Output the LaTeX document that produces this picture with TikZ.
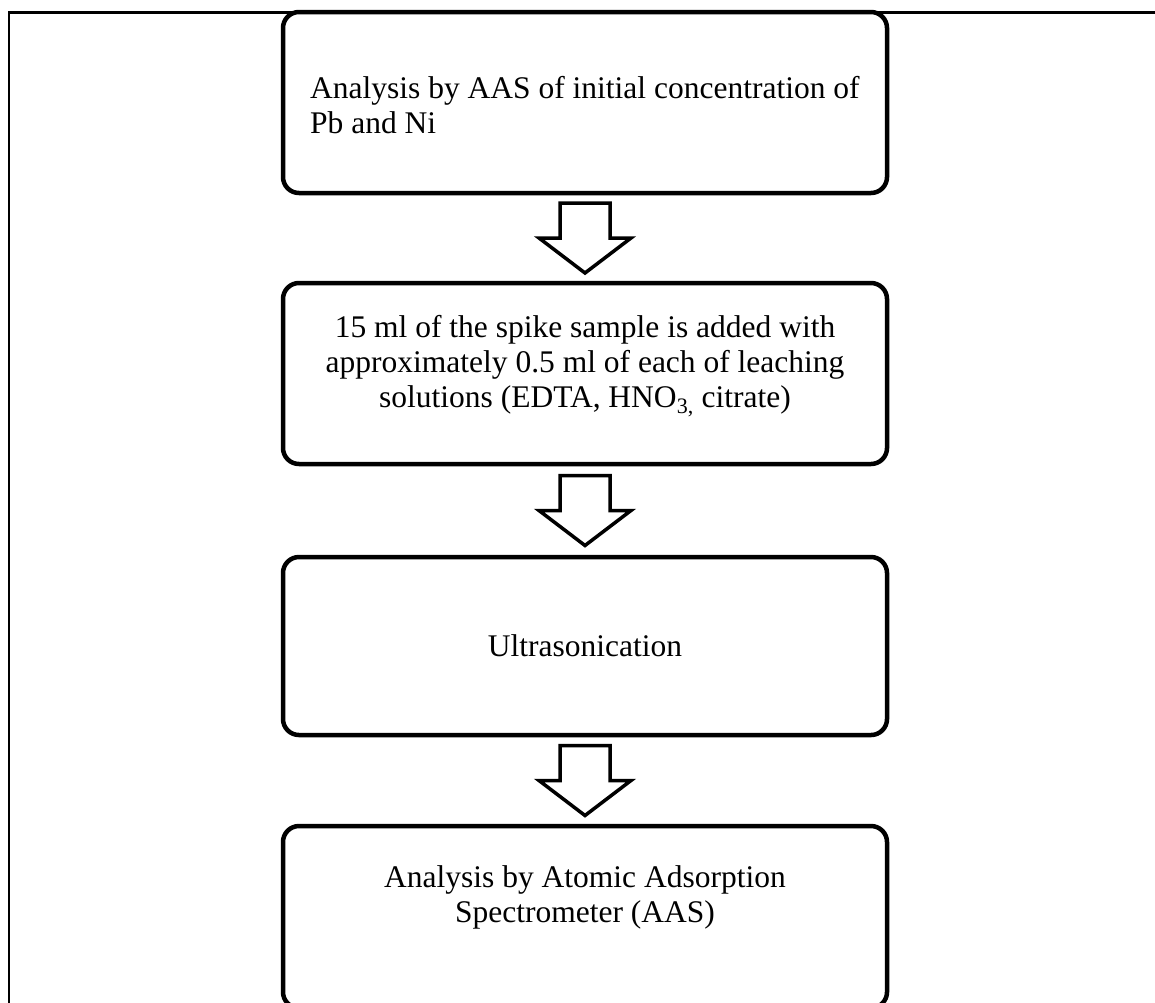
\documentclass[tikz,border=0pt]{standalone}
\usepackage{fontspec}
\setmainfont{Liberation Serif}
\usetikzlibrary{calc}
\begin{document}
\begin{tikzpicture}[x=1pt,y=-1pt,
  stepbox/.style={draw, line width=4.5pt, rounded corners=16pt, minimum width=604pt, inner sep=0pt},
  txt/.style={font=\fontsize{31.5}{35}\selectfont, inner sep=0pt},
  frameline/.style={line width=2.5pt},
  barrow/.style={line width=3.5pt, line join=miter},
  pics/downarrow/.style={code={\draw[barrow] (-25,-35) -- (25,-35) -- (25,0) -- (46,0) -- (0,35) -- (-46,0) -- (-25,0) -- cycle;}}]
\useasboundingbox (0,0) rectangle (1155,1002);
\draw[frameline] (9,1010) -- (9,12.5) -- (1160,12.5);
\node[stepbox, minimum height=181pt] (b1) at (585,102.5) {};
\node[stepbox, minimum height=181pt] (b2) at (585,373.5) {};
\node[stepbox, minimum height=178pt] (b3) at (585,646) {};
\node[stepbox, minimum height=182pt] (b4) at (585,917) {};
\node[txt, anchor=west, align=left] (t1) at (310,105) {Analysis by AAS of initial concentration of\\Pb and Ni};
\node[txt, align=center] (t2) at (585,366) {15 ml of the spike sample is added with\\approximately 0.5 ml of each of leaching\\solutions (EDTA, HNO\textsubscript{3,} citrate)};
\node[txt] (t3) at (585,646) {Ultrasonication};
\node[txt, align=center] (t4) at (585,897) {Analysis by Atomic Adsorption\\Spectrometer (AAS)};
\path (b1.south) -- (b2.north) coordinate[midway] (m1);
\path (b2.south) -- (b3.north) coordinate[midway] (m2);
\path (b3.south) -- (b4.north) coordinate[midway] (m3);
\pic at (m1) {downarrow};
\pic at (m2) {downarrow};
\pic at (m3) {downarrow};
\end{tikzpicture}
\end{document}
